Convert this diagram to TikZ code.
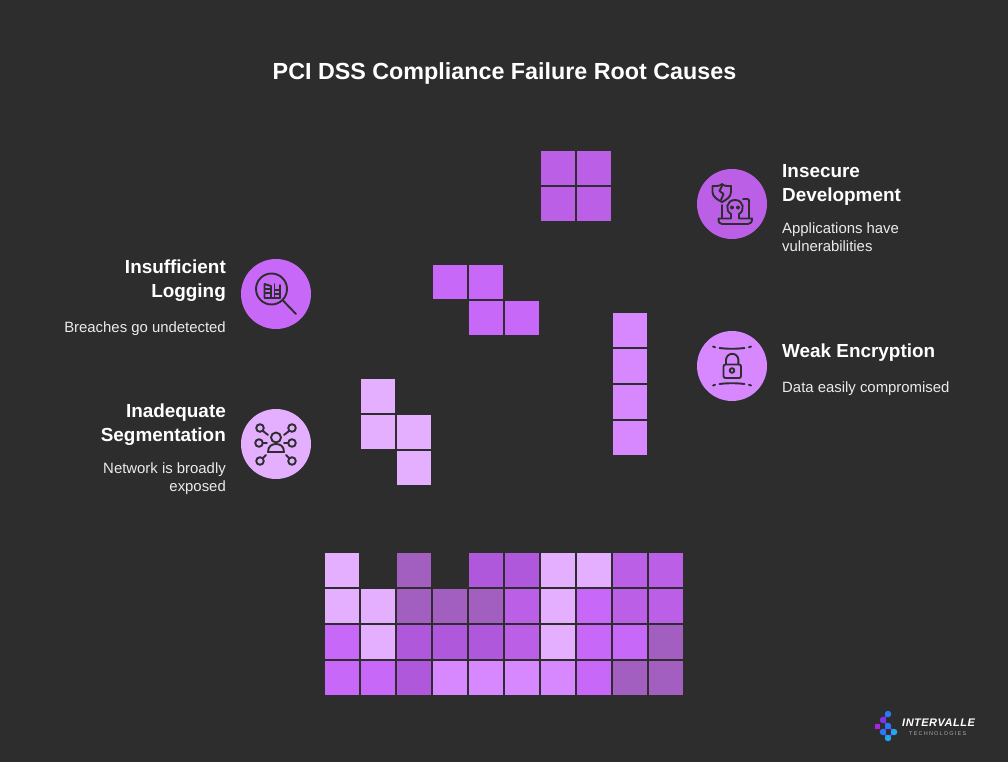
\documentclass[tikz,border=0pt]{standalone}
\usepackage{fontspec}
\setmainfont{Liberation Sans}
\definecolor{bg}{HTML}{2D2D2D}
\definecolor{ca}{HTML}{E4AFFF}
\definecolor{cb}{HTML}{A25FBF}
\definecolor{cc}{HTML}{B058DC}
\definecolor{cd}{HTML}{BB60E6}
\definecolor{ce}{HTML}{C868F8}
\definecolor{cf}{HTML}{D888FF}
\definecolor{lg1}{HTML}{B020E0}
\definecolor{lg2}{HTML}{7A35F0}
\definecolor{lg3}{HTML}{2A7BF0}
\definecolor{lg4}{HTML}{20A8F0}
\tikzset{
  cell/.style={draw=none,inner sep=0pt,minimum size=34pt,anchor=north west,fill=#1},
  badge/.style={draw=none,circle,inner sep=0pt,minimum size=70pt,fill=#1},
  heading/.style={text=white,font=\fontsize{18.9}{24}\selectfont\bfseries,inner sep=0pt,text depth=0pt},
  body/.style={text=white!92!black,font=\fontsize{14.9}{18}\selectfont,inner sep=0pt,text depth=0pt},
  ico/.style={draw=bg,line width=1.9pt,line cap=round,line join=round,fill=none},
  dot/.style={circle,fill=#1,draw=none,inner sep=0pt,minimum size=6.5pt},
}
\begin{document}
\begin{tikzpicture}[x=1pt,y=-1pt]
\useasboundingbox (0,0) rectangle (1008,762);
\fill[bg] (0,0) rectangle (1008,762);
\node[text=white,font=\fontsize{23.3}{28}\selectfont\bfseries,inner sep=0pt,anchor=base] (title) at (504.5,79.5) {PCI DSS Compliance Failure Root Causes};
% floating pieces
\foreach \n/\x/\y/\c in {s1/541/151/cd,s2/577/151/cd,s3/541/187/cd,s4/577/187/cd,
  z1/433/265/ce,z2/469/265/ce,z3/469/301/ce,z4/505/301/ce,
  v1/613/313/cf,v2/613/349/cf,v3/613/385/cf,v4/613/421/cf,
  t1/361/379/ca,t2/361/415/ca,t3/397/415/ca,t4/397/451/ca}
  \node[cell=\c] (\n) at (\x,\y) {};
% bottom wall
\foreach \r/\y/\row in {1/553/{ca,,cb,,cc,cc,ca,ca,cd,cd},
                        2/589/{ca,ca,cb,cb,cb,cd,ca,ce,cd,cd},
                        3/625/{ce,ca,cc,cc,cc,cd,ca,ce,ce,cb},
                        4/661/{ce,ce,cc,cf,cf,cf,cf,ce,cb,cb}}{
  \foreach \c [count=\i from 0] in \row {
    \ifx\c\empty\else
      \pgfmathsetmacro{\xx}{325+36*\i}
      \node[cell=\c] (w\r-\i) at (\xx,\y) {};
    \fi
  }
}
% badges
\node[badge=cd] (dev) at (732,204) {};
\node[badge=cf] (enc) at (732,366) {};
\node[badge=ce] (log) at (276,294) {};
\node[badge=ca] (seg) at (276,444) {};
% right texts
\node[heading,anchor=base west] (h1a) at (782,177.7) {Insecure};
\node[heading,anchor=base west] (h1b) at (782,201.7) {Development};
\node[body,anchor=base west] (b1a) at (782,233) {Applications have};
\node[body,anchor=base west] (b1b) at (782,251) {vulnerabilities};
\node[heading,anchor=base west] (h2) at (782,357.7) {Weak Encryption};
\node[body,anchor=base west] (b2) at (782,392) {Data easily compromised};
% left texts
\node[heading,anchor=base east] (h3a) at (226,273.7) {Insufficient};
\node[heading,anchor=base east] (h3b) at (226,297.7) {Logging};
\node[body,anchor=base east] (b3) at (226,332) {Breaches go undetected};
\node[heading,anchor=base east] (h4a) at (226,417.7) {Inadequate};
\node[heading,anchor=base east] (h4b) at (226,441.7) {Segmentation};
\node[body,anchor=base east] (b4a) at (226,473) {Network is broadly};
\node[body,anchor=base east] (b4b) at (226,491) {exposed};
% icon: shield + skull + laptop
\draw[ico] (712.5,186) .. controls (718,186.5) and (722,185) .. (722,184) .. controls (722,185) and (726,186.5) .. (731,186) -- (731,192) .. controls (731,197) and (726,200) .. (722,202) .. controls (718,200) and (712.5,197) .. (712.5,192) -- cycle;
\draw[ico] (722,186) -- (719.5,191) -- (723.5,194) -- (721,200);
\draw[ico] (722,218) -- (722,205);
\draw[ico] (743,199) -- (747,199) .. controls (748.5,199) and (749,199.5) .. (749,201) -- (749,218);
\draw[ico] (718.5,218.5) -- (731,218.5) (739,218.5) -- (752,218.5) .. controls (752,222) and (751,224) .. (748,224) -- (722,224) .. controls (719,224) and (718.5,222) .. (718.5,218.5);
\draw[ico] (731,218) -- (731,214) .. controls (725,211) and (726,200) .. (735,200) .. controls (744,200) and (745,211) .. (739,214) -- (739,218);
\fill[bg] (732,207.5) circle (2) (738,207.5) circle (2);
% icon: lock
\draw[ico,rounded corners=2pt] (723.5,364.5) rectangle (741,378);
\draw[ico] (726,364) -- (726,360) arc[start angle=180,end angle=360,radius=6.2] -- (738.4,364);
\draw[ico] (732,370.5) circle (2.3);
\draw[ico] (719.5,348) .. controls (727,349) and (737,349) .. (744.5,348);
\draw[ico] (719.5,384) .. controls (727,383) and (737,383) .. (744.5,384);
\draw[ico] (713,346.5) -- (715,347.2) (749,347.2) -- (751,346.5);
\draw[ico] (713,385.5) -- (715,384.8) (749,384.8) -- (751,385.5);
% icon: magnifier
\draw[ico] (271.5,289) circle (15.5);
\draw[ico] (283,300.5) -- (296,314);
\draw[ico] (264.5,284) -- (264.5,298) -- (280,298) (264.5,284) -- (271,286) -- (271,298);
\draw[ico] (274.5,284) -- (274.5,298) (280,285) -- (280,298);
\draw[ico] (265,289) -- (270,289) (265,293) -- (270,293) (275,290) -- (280,290) (275,294) -- (280,294);
% icon: network
\draw[ico] (276,437.5) circle (5);
\draw[ico] (268,452) .. controls (268,446) and (272,444) .. (276,444) .. controls (280,444) and (284,446) .. (284,452) -- cycle;
\foreach \px/\py in {260/428,292/428,259/443,292/443,260/461,292/461}
  \draw[ico] (\px,\py) circle (3.8);
\draw[ico] (263,431) -- (268,435) (289,431) -- (284,435) (263,443) -- (267,443) (288,443) -- (284,443) (263,458) -- (266,455) (289,458) -- (286,455);
% logo
\draw[lg2,line width=1.6pt] (888,714) -- (883,720) -- (888,726) -- (883,732) (888,726) -- (894,732) -- (888,738) -- (883,732);
\fill[lg1] (875,724) rectangle (879.5,729);
\node[dot=lg2] (l1) at (883,720) {};
\node[dot=lg3] (l2) at (888,714) {};
\node[dot=lg3] (l3) at (888,726) {};
\node[dot=lg3] (l4) at (883,732) {};
\node[dot=lg4] (l5) at (894,732) {};
\node[dot=lg4] (l6) at (888,738) {};
\node[text=white,font=\fontsize{11}{12}\selectfont\bfseries\itshape,inner sep=0pt,anchor=base west] (lt) at (902,726) {\addfontfeatures{LetterSpace=4.5}INTERVALLE};
\node[text=white!60!bg,font=\fontsize{5.5}{6}\selectfont,inner sep=0pt,anchor=base west] (ls) at (909,735) {\addfontfeatures{LetterSpace=22}TECHNOLOGIES};
\end{tikzpicture}
\end{document}
